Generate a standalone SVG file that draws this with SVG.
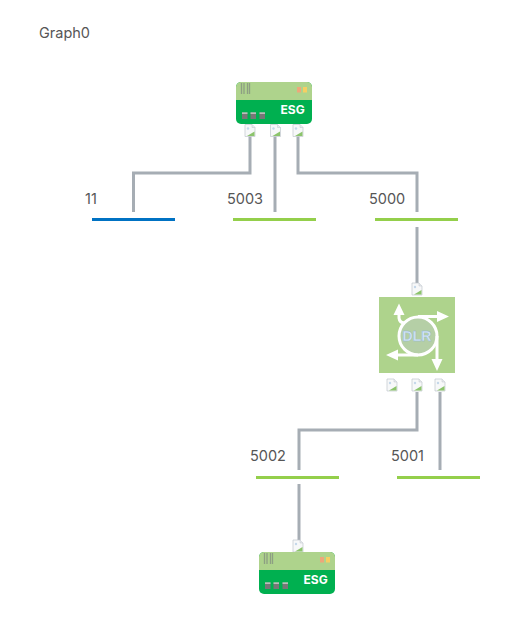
<svg xmlns="http://www.w3.org/2000/svg" xmlns:xlink="http://www.w3.org/1999/xlink" width="517" height="619" viewBox="0 0 517 619">
<style>
text{font-family:"Inter","Open Sans",sans-serif;font-size:14.500px;fill:#565656}
.c{fill:none;stroke:#a6adb4;stroke-width:3}
.net{stroke-width:3;fill:none}
.g{stroke:#94cf4b}.b{stroke:#0072c3}
.esgt{font-family:"Inter","Liberation Sans",sans-serif;font-size:12px;font-weight:700;fill:#fff}
.dlrt{font-family:"Liberation Sans",sans-serif;font-size:14px;font-weight:bold;fill:#d4e6f5;stroke:#8fb4d2;stroke-width:.4}
.ar{fill:none;stroke:#fff;stroke-width:3}
.ah{fill:#fff}
</style>
<defs>
<g id="doc">
<path d="M-5-6H2L5-3V6H-5Z" fill="#f7f8f9" stroke="#c0c7cd" stroke-width=".7"/>
<path d="M2-6V-3H5" fill="#e6eaed" stroke="#c0c7cd" stroke-width=".5"/>
<path d="M-3 5.500L4.500 1V5.500Z" fill="#8cc46c"/>
<circle cx="-2" cy="-2" r="1.200" fill="#c4d8ea"/>
</g>
<g id="esg">
<rect width="76" height="42" rx="5" fill="#00b050"/>
<path d="M0 18V5A5 5 0 0 1 5 0H71A5 5 0 0 1 76 5V18Z" fill="#aed38c"/>
<path d="M5.500 1V12M8 1V12M11.500 1V12M13.500 1V12" stroke="#8d9f83" stroke-width="1.300"/>
<rect x="61" y="5" width="4" height="5.500" fill="#eda77a"/><rect x="67" y="5" width="4" height="5.500" fill="#f6cf62"/>
<g fill="#777"><rect x="6" y="30.500" width="5.500" height="6.500"/><rect x="14.500" y="30.500" width="5.500" height="6.500"/><rect x="23.500" y="30.500" width="5.500" height="6.500"/></g>
<g fill="#d8dcd6"><rect x="6" y="30.500" width="5.500" height="1.200"/><rect x="14.500" y="30.500" width="5.500" height="1.200"/><rect x="23.500" y="30.500" width="5.500" height="1.200"/></g>
<text class="esgt" x="44.500" y="32">ESG</text>
</g>
</defs>
<text id="title" x="39" y="37.500">Graph0</text>
<g id="connectors">
<path class="c" d="M250 135V173H133.500V212"/>
<path class="c" d="M275 135V212"/>
<path class="c" d="M298 135V173H417V212"/>
<path class="c" d="M417 227V284"/>
<path class="c" d="M417 392V430H299V470"/>
<path class="c" d="M440 392V470"/>
<path class="c" d="M299 484V541"/>
</g>
<g id="esg-top"><use xlink:href="#esg" href="#esg" x="236" y="82"/>
<use href="#doc" x="250" y="130.500"/><use href="#doc" x="275.500" y="130.500"/><use href="#doc" x="298" y="130.500"/></g>
<g id="net-11"><text x="85" y="203.500">11</text><path class="net b" d="M92 219.500H175"/></g>
<g id="net-5003"><text x="227" y="203.500">5003</text><path class="net g" d="M233 219.500H316"/></g>
<g id="net-5000"><text x="369" y="203.500">5000</text><path class="net g" d="M375 219.500H458"/></g>
<g id="dlr">
<use href="#doc" x="417" y="289"/>
<rect x="379" y="297" width="76" height="76" fill="#aed38c"/>
<circle cx="418" cy="336" r="19" fill="#b5cfa6" stroke="#fff" stroke-width="3"/>
<path class="ar" d="M399 312V318Q399.500 323 405 323M418 316.500H442"/>
<path class="ar" d="M394 355H418M437 336V364"/>
<path class="ah" d="M399 303.500L393.500 315H404.500ZM449 316.500L437 311V322ZM386 355L398 349.500V360.500ZM437 371L431.500 359H442.500Z"/>
<text class="dlrt" x="417" y="340.500" text-anchor="middle">DLR</text>
<use href="#doc" x="392" y="385"/><use href="#doc" x="417" y="385"/><use href="#doc" x="440" y="385"/>
</g>
<g id="net-5002"><text x="250" y="460.500">5002</text><path class="net g" d="M256 477.500H339"/></g>
<g id="net-5001"><text x="391" y="460.500">5001</text><path class="net g" d="M397 477.500H480"/></g>
<g id="esg-bottom"><use href="#doc" x="298" y="546"/><use href="#esg" x="259" y="552"/></g>
</svg>
